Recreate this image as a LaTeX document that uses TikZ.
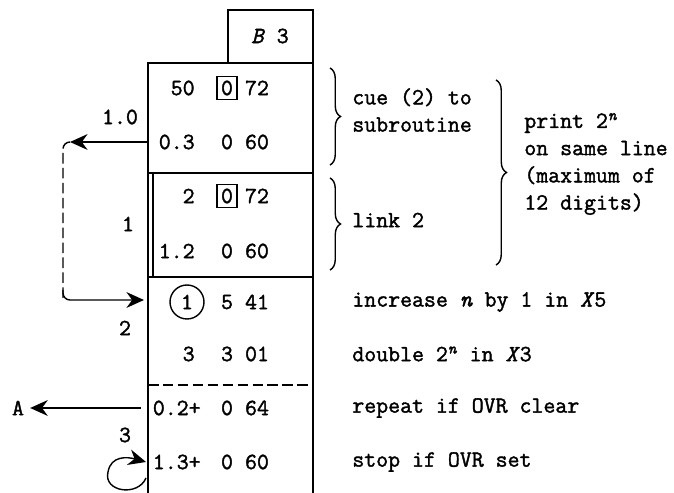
\documentclass[tikz,border=0pt]{standalone}
\usepackage{fontspec}
\setmonofont{Latin Modern Mono}[FakeBold=1.6]
\usetikzlibrary{
	arrows.meta,
	positioning,
	decorations.pathreplacing,
	calc
}

\begin{document}
\begin{tikzpicture}[
				x=0.02cm, y=-0.02cm,
				every node/.style={font=\fontsize{13.2}{15.5}\selectfont\ttfamily},
				field/.style={inner sep=0pt},
				lfield/.style={field, anchor=east},
				note/.style={anchor=west, inner sep=0pt, align=left},
				boxed/.style={draw, thick, inner sep=2.2pt},
				ring/.style={draw, thick, circle, minimum size=0.68cm, inner sep=0pt},
				arrow/.style={-{Stealth[length=10pt,width=9pt]}, thick},
				brace/.style={decorate, decoration={brace, amplitude=6pt}, thick},
				]
				\useasboundingbox (0,0) rectangle (674,493);
				
				%column
				\draw[line width=1.3pt] (228,63) -- (228,10) -- (313,10) -- (313,63);
				\node (reg) at (270,36) {\textit{B} 3};
				\draw[thick] (148,493) -- (148,63) -- (313,63) -- (313,493);
				\draw[thick] (148,173) -- (313,173);
				\draw[thick] (153,173) -- (153,277);
				\draw[thick] (148,277) -- (313,277);
				\draw[thick, dash pattern=on 6pt off 2.5pt] (148,385) -- (313,385);
				
				%first set
				\node[lfield] (r1a) at (195,88) {50};
				\node[field, boxed] (r1b) at (227,88) {0};
				\node[field] (r1c) at (257,88) {72};
				\node[lfield] (r2a) at (195,142) {0.3};
				\node[field] (r2b) at (227,142) {0};
				\node[field] (r2c) at (257,142) {60};
				\node (loc10) at (120,117) {1.0};
				
				%2. set
				\node[lfield] (r3a) at (195,196) {2};
				\node[field, boxed] (r3b) at (227,196) {0};
				\node[field] (r3c) at (257,196) {72};
				\node[lfield] (r4a) at (195,251) {1.2};
				\node[field] (r4b) at (227,251) {0};
				\node[field] (r4c) at (257,251) {60};
				\node (loc1) at (128,224) {1};
				
				%3. set
				\node[field, ring] (r5a) at (187,302) {1};
				\node[field] (r5b) at (227,302) {5};
				\node[field] (r5c) at (257,302) {41};
				\node[lfield] (r6a) at (195,354) {3};
				\node[field] (r6b) at (227,354) {3};
				\node[field] (r6c) at (257,354) {01};
				\node (loc2) at (125,328) {2};
				
				%4. set
				\node[lfield] (r7a) at (201,408) {0.2+};
				\node[field] (r7b) at (227,408) {0};
				\node[field] (r7c) at (257,408) {64};
				\node[lfield] (r8a) at (201,462) {1.3+};
				\node[field] (r8b) at (227,462) {0};
				\node[field] (r8c) at (257,462) {60};
				\node (loc3) at (125,435) {3};
				
				%jumps
				\coordinate (out03) at (148,142);
				\coordinate (hook) at (70,142);
				\coordinate (down) at (63,300);
				\coordinate (in2) at (144,300);
				\draw[arrow] (out03) -- (hook);
				\draw[thick, dash pattern=on 6pt off 2.5pt, rounded corners=4pt] (hook) -| (down);
				\draw[arrow, rounded corners=4pt] (63,290) |- (in2);
				
				\node (exitA) at (18,408) {A};
				\coordinate (out02) at (141,408);
				\draw[arrow] (out02) -- (exitA);
				
				\coordinate (in13) at (146,462);
				\coordinate (loop) at (146,478);
				\draw[arrow] (loop) .. controls (138,497) and (103,492) .. (108,472)
					.. controls (111,455) and (128,457) .. (in13);
				
				%notes
				\draw[brace] (330,68) -- (330,165);
				\draw[brace] (330,178) -- (330,270);
				\draw[brace] (496,80) -- (496,265);
				\node[note] (cue) at (352,110) {cue (2) to\\subroutine};
				\node[note] (link) at (352,220) {link 2};
				\node[note] (print) at (524,164) {print 2\textsuperscript{\textit{n}}\\on same line\\(maximum of\\12 digits)};
				\node[note] (inc) at (352,302) {increase \textit{n} by 1 in \textit{X}5};
				\node[note] (dbl) at (352,354) {double 2\textsuperscript{\textit{n}} in \textit{X}3};
				\node[note] (rep) at (352,408) {repeat if OVR clear};
				\node[note] (stop) at (352,462) {stop if OVR set};
			\end{tikzpicture}
\end{document}
